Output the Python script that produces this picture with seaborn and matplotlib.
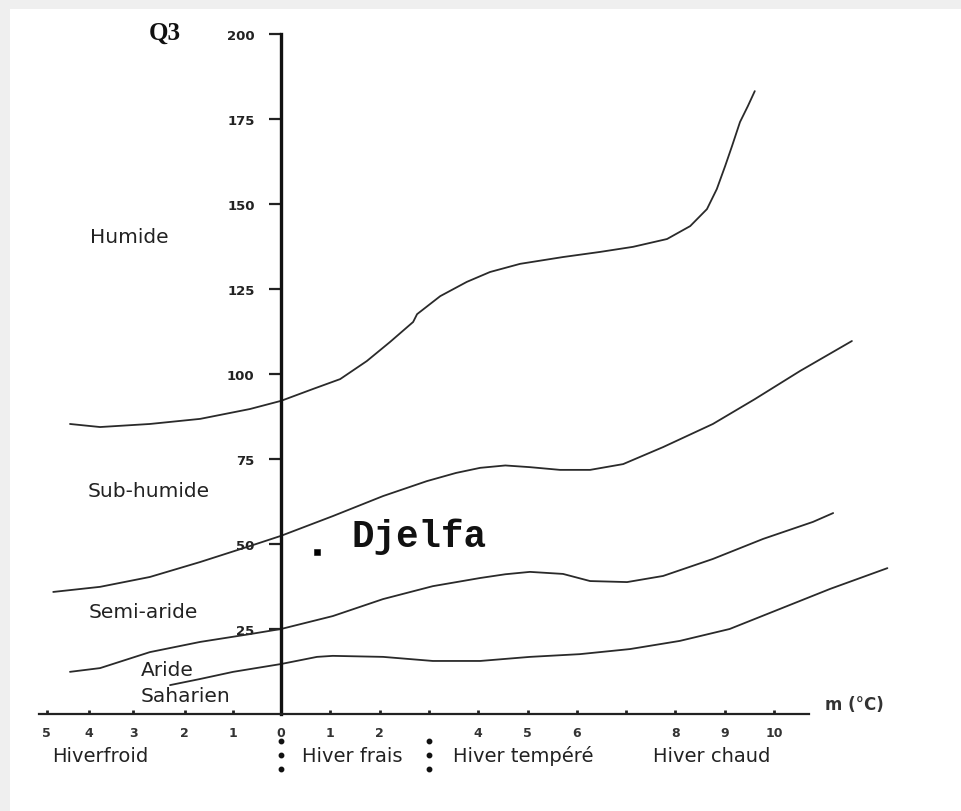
import matplotlib
matplotlib.use("Agg")
import matplotlib.pyplot as plt
import seaborn as sns
import pandas as pd
from matplotlib.patches import Rectangle

# ---------------- data ----------------
# limit Humide / Sub-humide
humide_x = [-4.28, -3.67, -2.66, -1.64, -0.63, 0.0, 0.65, 1.2, 1.74, 2.21, 2.68,
            2.76, 3.23, 3.77, 4.24, 4.85, 5.72, 6.47, 7.14, 7.83, 8.30, 8.64,
            8.84, 9.01, 9.15, 9.31, 9.47, 9.61]
humide_y = [85.3, 84.4, 85.3, 86.8, 89.7, 92.1, 95.6, 98.5, 103.8, 109.4, 115.3,
            117.6, 122.9, 127.1, 130.0, 132.4, 134.4, 135.9, 137.4, 139.7, 143.5,
            148.5, 154.4, 161.2, 167.1, 174.1, 178.8, 183.2]
# limit Sub-humide / Semi-aride
subhum_x = [-4.62, -3.67, -2.66, -1.64, -0.63, 0.0, 1.05, 2.07, 2.96, 3.55, 4.04,
            4.55, 5.05, 5.66, 6.27, 6.94, 7.75, 8.76, 9.61, 10.53, 11.58]
subhum_y = [35.9, 37.4, 40.3, 44.7, 49.4, 52.4, 58.2, 64.1, 68.5, 70.9, 72.4,
            73.1, 72.6, 71.8, 71.8, 73.5, 78.5, 85.3, 92.6, 100.9, 109.7]
# limit Semi-aride / Aride
semiar_x = [-4.28, -3.67, -2.66, -1.64, -0.63, 0.0, 1.05, 2.07, 3.08, 4.04, 4.55,
            5.05, 5.72, 6.27, 7.02, 7.75, 8.76, 9.78, 10.79, 11.2]
semiar_y = [12.4, 13.5, 18.2, 21.2, 23.5, 25.0, 28.8, 33.8, 37.6, 40.0, 41.1,
            41.8, 41.2, 39.1, 38.8, 40.6, 45.6, 51.5, 56.5, 59.1]
# limit Aride / Saharien
aride_x = [-2.25, -1.64, -0.97, 0.0, 0.73, 1.05, 2.07, 3.08, 4.04, 5.05, 6.06,
           7.08, 8.09, 9.1, 10.12, 11.14, 12.3]
aride_y = [8.5, 10.3, 12.4, 14.7, 16.8, 17.1, 16.8, 15.6, 15.6, 16.8, 17.6,
           19.1, 21.5, 25.0, 30.9, 36.8, 42.9]

station_name = ["Djelfa"]
station_m = [0.73]
station_q3 = [47.6]

y_ticks = [25, 50, 75, 100, 125, 150, 175, 200]
y_tick_labels = ["25", "50", "75", "100", "125", "150", "175", "200"]
# tick positions as drawn on the (hand-made) axis
x_ticks = [-4.75, -3.9, -3.0, -1.95, -0.97, 0, 1, 2, 3, 4, 5, 6, 7, 8, 9, 10]
x_tick_labels = ["5", "4", "3", "2", "1", "0", "1", "2", "", "4", "5", "6", "",
                 "8", "9", "10"]

zone_names = ["Humide", "Sub-humide", "Semi-aride", "Aride", "Saharien"]
zone_x = [-3.08, -2.68, -2.80, -2.31, -1.93]
zone_y = [140.3, 65.6, 30.0, 13.2, 5.3]

winter_names = ["Hiverfroid", "Hiver frais", "Hiver tempéré", "Hiver chaud"]
winter_x = [-3.67, 1.44, 4.91, 8.74]
winter_sep = [0, 3]

# ---------------- figure ----------------
sns.set_style("white")
plt.rcParams["font.family"] = ["DejaVu Sans"]

fig = plt.figure(figsize=(9.61, 8.12), dpi=100)
fig.patch.set_facecolor("white")
# scanned page border
fig.patches.append(Rectangle((0, 1 - 10 / 812), 1, 10 / 812, transform=fig.transFigure,
                             facecolor="#efefef", edgecolor="none", zorder=0))
fig.patches.append(Rectangle((0, 0), 10 / 961, 1, transform=fig.transFigure,
                             facecolor="#efefef", edgecolor="none", zorder=0))

ax = fig.add_axes([0, 0, 1, 1])
ax.set_facecolor("none")
pxx = 49.3
pxy = 3.4
ax.set_xlim(-281 / pxx, 680 / pxx)
ax.set_ylim(-97 / pxy, 715 / pxy)

frames = []
for name, xs, ys in [("h", humide_x, humide_y), ("s", subhum_x, subhum_y),
                     ("a", semiar_x, semiar_y), ("r", aride_x, aride_y)]:
    frames.append(pd.DataFrame({"m": xs, "Q3": ys, "curve": name}))
df = pd.concat(frames, ignore_index=True)

sns.lineplot(data=df, x="m", y="Q3", units="curve", estimator=None, sort=False,
             color="#2a2a2a", linewidth=1.3, ax=ax, legend=False)

st = pd.DataFrame({"m": station_m, "Q3": station_q3, "name": station_name})
sns.scatterplot(data=st, x="m", y="Q3", marker="s", s=22, color="black",
                edgecolor="black", ax=ax, legend=False, zorder=5)
ax.text(1.44, 52.4, station_name[0], family="Liberation Mono", weight="bold",
        fontsize=27, ha="left", va="center", color="#111")

# axes like the drawing
for s in ["top", "right"]:
    ax.spines[s].set_visible(False)
ax.spines["left"].set_position(("data", 0))
ax.spines["left"].set_bounds(0, 200)
ax.spines["left"].set_linewidth(2.4)
ax.spines["left"].set_color("#111")
ax.spines["bottom"].set_position(("data", 0))
ax.spines["bottom"].set_bounds(-4.9, 10.7)
ax.spines["bottom"].set_linewidth(1.6)
ax.spines["bottom"].set_color("#222")

ax.set_yticks(y_ticks)
ax.set_yticklabels(y_tick_labels, fontsize=9.5, fontweight="bold", color="#222")
ax.tick_params(axis="y", direction="out", length=9, width=1.6, pad=10, left=True,
               color="#222")
ax.set_xticks(x_ticks)
ax.set_xticklabels(x_tick_labels, fontsize=9, fontweight="bold", color="#333")
ax.tick_params(axis="x", direction="in", length=3, width=2, pad=9, bottom=True,
               color="#222")
ax.set_xlabel("")
ax.set_ylabel("")

ax.text(-2.35, 200.6, "Q3", family="Liberation Serif", weight="bold", fontsize=18,
        ha="center", va="center", color="#111")
ax.text(11.03, 2.9, "m (°C)", fontsize=12, weight="bold", ha="left", va="center",
        color="#333")

for nm, zx, zy in zip(zone_names, zone_x, zone_y):
    ax.text(zx, zy, nm, fontsize=14.5, ha="center", va="center", color="#222")

for nm, wx in zip(winter_names, winter_x):
    ax.text(wx, -12.1, nm, fontsize=14, ha="center", va="center", color="#222")

dot_y = [-8.0, -12.1, -16.2]
for sx in winter_sep:
    ax.plot([sx] * len(dot_y), dot_y, linestyle="none", marker="o", markersize=3.2,
            color="#111")

fig.savefig("out.png", dpi=100)
